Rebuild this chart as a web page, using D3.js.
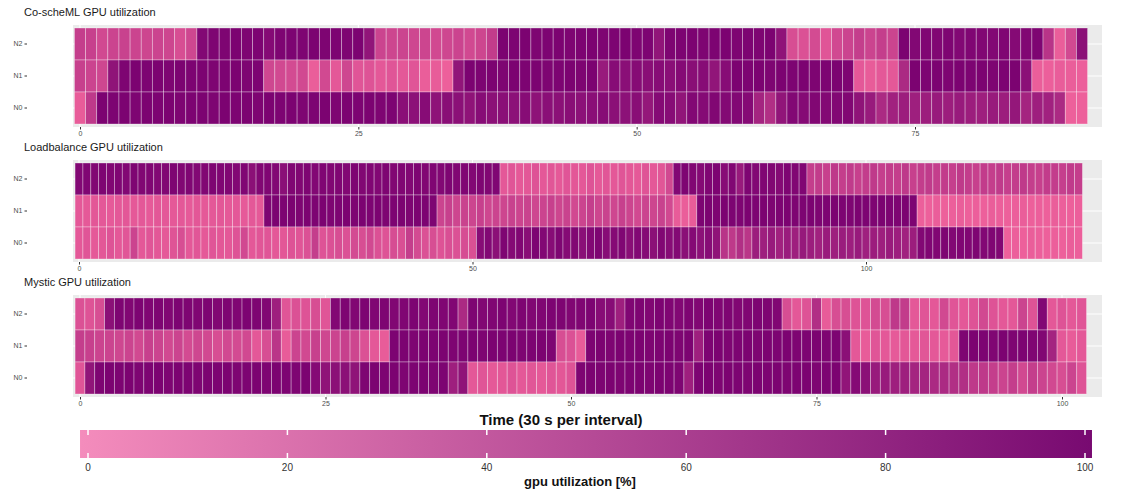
<!DOCTYPE html>
<html>
<head>
<meta charset="utf-8">
<title>GPU utilization heatmaps</title>
<style>
  body { margin: 0; background: #fff; }
  text { font-family: "Liberation Sans", Arial, sans-serif; }
</style>
</head>
<body>
<svg width="1132" height="492"></svg>
<script src="https://d3js.org/d3.v7.min.js"></script>
<script>

var nodes = ["N2", "N1", "N0"];

var coschemlN2 = [40,38,30,35,37,35,33,35,33,25,32, 92,95,95,97,95,96,90,95,96,95,97,95,96,95,97,80, 35,33,35,32,34,30,32,35,30,33,42, 97,96,97,95,96,97,95,96,97,95,96,97,95,96,80,95,96,97,95,96,97,95,96,95,97,82, 25,22,28,18,30,35,40,35,40,35, 97,92,94,93,95,92,94,93,92,94,90,93,95, 50,10,30,85];
var coschemlN1 = [38,35,32, 82, 95,97,96,97,95,97,96,97,95,96,97,95,96, 32,30,28,30,10,30,15,32,18,20,15,18,15,18,10,12,8, 80, 97,96,97,95,97,96,97,95,96,97,95,97, 75, 88,86,89,87,88,86,90,87,88, 80, 88, 97,96,97,95,97,96,97,95,96,97,95, 15,12,15,15, 60, 97,96,97,95,97,96,97,95,96,97, 85, 10,9,11,10,9];
var coschemlN0 = [12,45, 97,96,97,95,97,96,97,95,96,97,95,97,96,97,95,97,96,97,95,96,97,95,97,96,97,95,96, 86,84,88,83,87,85,82,88,85,86,84,88,83,86,85,87,84,86,88,85,84,87, 78, 90,88, 80, 92,90,93,91,92,90, 65,55,80, 92,90,93,91,92,93, 82,75,60,68,72,70,72,75,72,75,72,70,75,72,78,65,70,68,60,8,8];

var loadbalanceN2 = [92,94,93,95,93,94,92,95,93,94,92,93,95,93,94,92,93,95,94,93,92,94,85,93,94,92,86,94,93,95,92,94,93, 94,92,95,93,94,92,95,93,94,92,95,93,94,92,95,93,94,92,95,93,94, 15,18,14,16,20,15,17,14,18,16,15,20,14,17,15,18,16,14,19,15,17,30, 92,95,93,90,94,96,88,93,75,95,92,94,93,90,95,93,94, 40,42,38,45,40,43,38,41,44,39,42,40,45,38,41,43,40,42,39,44,41,38,42,40,43,39,41,44,40,38,42,41,39,43,40];
var loadbalanceN1 = [15,14,16,15,13,15,16,14,15,13,16,15,14,15,13,16,14,15,16,14,15,13,15,14, 95,97,96,97,95,97,96,97,95,96,97,95,97,96,97,95,96,97,95,97,96,95, 35,38,33,36,34,38,32,35,33,37,34,36,32,35,38,33,36,30,35,40,33,36,32,38,34,30,35,33,37,30, 12,10,12, 96,97,95,97,96,95,97,96,97,95,96,97,95,96,97,95,96,97,96,95,97,96,95,97,96,95,97,96, 9,8,10,8,9,10,8,9,8,10,9,8,9,10,8,9,8,10,9,8,9];
var loadbalanceN0 = [15,18,14,16,20,15,17,35,15,18,16,14,19,25,15,17,14,18,16,15,20,30,15,17,18,15,16,20,18,22,40,20,22, 25,22,28,25,30,22,20,26,24,40,28,22,25,20,24,22,26,23, 88,92,85,95,90,93,87,96,92,88,95,90,93,86,92,95,88,90,94,87,92,90,85,93,88,91,86,90,84,88,82, 50,45,55,48, 72,70,75,68,73,70,76,72,68,74,70,73,71,75,69,72,70,74,71,68,72, 92,94,93,95,92,94,93,95,92,94,93, 8,9,8,10,9,8,9,8,10,9];

var mysticN2 = [22,20,25, 85, 95,93,96,94,95,93,96,95,94,96,93,95,94,96,95,93, 70, 18,22,20,25,18, 92,95,93,96,94,95,93,94,96,92,95,94,93, 60, 95,93,94,96,92,95,93,94,96,95,93,94,96,88,88,70, 94,95,93,96,94,92,95,93,96,94,95,93,94,96,95,93, 25,15,20,55,12,25, 25,20,20,28,25,45,42,15,18,15,30,18,15,20,30,20,15,15,35,20,92,15,20,15,18];
var mysticN1 = [40,38,35,35,32,35,30,38,35,30,35,28,32,30,25,30,28,30,15,25,48,12,35,30,38,32, 35,38,33,22,15,12, 96,97,95,97,96,97,95,96,97,95,97,96,97,95,96,97,95, 25,22,12, 96,97,95,97,96,97,95,96,97,95,97,70,96,97,95,96,97,95,97,96,97,95,96,97,95,96, 85, 15,12,18,15,13,16,14,17,15,13,16, 95,97,96,94,97,95,96,94,93, 65, 15,12,15];
var mysticN0 = [18,80, 95,97,96,97,95,96,97,95,97,96,95,97,96,97,95,96,97,95,97,96,95,97, 90,82,85,85,82, 95,97,96,97,95,96,97,95,96, 70,82, 15,18,14,16,20,15,17,14,18,16,20, 95,97,96,97,95,96,97,95,97,96,95, 70, 96,97,95,97,96,95,97,96,97,95,96,97,95,96,97, 80,90,85,75,75,70,70,65,65,60,60,55,55,45,45,40,35,40,30,40,35,30,25,35,20];

var panelTitles = ["Co-scheML GPU utilization", "Loadbalance GPU utilization", "Mystic GPU utilization"];
var coschemlTicks = [0, 25, 50, 75];
var loadbalanceTicks = [0, 50, 100];
var mysticTicks = [0, 25, 50, 75, 100];
var legendTicks = [0, 20, 40, 60, 80, 100];

var panels = [
  {title: panelTitles[0], rows: {N2: coschemlN2, N1: coschemlN1, N0: coschemlN0}, ticks: coschemlTicks, top: 25, dom: [0, 75], rng: [80, 915]},
  {title: panelTitles[1], rows: {N2: loadbalanceN2, N1: loadbalanceN1, N0: loadbalanceN0}, ticks: loadbalanceTicks, top: 160, dom: [0, 100], rng: [79, 866]},
  {title: panelTitles[2], rows: {N2: mysticN2, N1: mysticN1, N0: mysticN0}, ticks: mysticTicks, top: 295, dom: [0, 100], rng: [80, 1062]}
];

var svg = d3.select("svg");
svg.append("rect").attr("width", 1132).attr("height", 492).attr("fill", "#fff");

var color = d3.scaleLinear()
    .domain([0, 100])
    .range(["#f7689f", "#780070"])
    .interpolate(d3.interpolateRgb);

var panelLeft = 73, panelRight = 1102, panelH = 102;

panels.forEach(function(p) {
  var g = svg.append("g");
  var x = d3.scaleLinear().domain(p.dom).range(p.rng);
  var y = d3.scaleBand().domain(nodes).range([p.top + 3, p.top + panelH - 3]);

  g.append("text")
      .attr("x", 24)
      .attr("y", p.top - 9)
      .attr("font-size", 11)
      .attr("fill", "#1a1a1a")
      .text(p.title);

  g.append("rect")
      .attr("x", panelLeft)
      .attr("y", p.top)
      .attr("width", panelRight - panelLeft)
      .attr("height", panelH)
      .attr("fill", "#ebebeb");

  // grid lines
  g.selectAll(".hgrid")
    .data(nodes)
    .enter().append("line")
      .attr("x1", panelLeft).attr("x2", panelRight)
      .attr("y1", function(d) { return y(d) + y.bandwidth() / 2; })
      .attr("y2", function(d) { return y(d) + y.bandwidth() / 2; })
      .attr("stroke", "#fff")
      .attr("stroke-width", 1.1);

  g.selectAll(".vgrid")
    .data(p.ticks)
    .enter().append("line")
      .attr("x1", function(d) { return x(d); })
      .attr("x2", function(d) { return x(d); })
      .attr("y1", p.top).attr("y2", p.top + panelH)
      .attr("stroke", "#fff")
      .attr("stroke-width", 1.1);

  nodes.forEach(function(n) {
    g.selectAll(null)
      .data(p.rows[n])
      .enter().append("rect")
        .attr("x", function(d, i) { return x(i - 0.5); })
        .attr("y", y(n))
        .attr("width", function(d, i) { return x(i + 0.5) - x(i - 0.5); })
        .attr("height", y.bandwidth())
        .attr("fill", function(d) { return color(d); })
        .attr("stroke", "rgba(255,255,255,0.4)")
        .attr("stroke-width", 0.8);
  });

  // y axis labels
  var ya = g.append("g").attr("transform", "translate(" + 27 + ",0)")
      .call(d3.axisLeft(y).tickSize(2.5).tickPadding(2));
  ya.select(".domain").remove();
  ya.selectAll("line").attr("stroke", "#333");
  ya.selectAll("text").attr("font-size", 7).attr("fill", "#4d4d4d")
      .style("font-family", "Liberation Sans, Arial, sans-serif");

  var xa = g.append("g").attr("transform", "translate(0," + (p.top + panelH) + ")")
      .call(d3.axisBottom(x).tickValues(p.ticks).tickSize(2.5).tickPadding(1.5));
  xa.select(".domain").remove();
  xa.selectAll("line").attr("stroke", "#333");
  xa.selectAll("text").attr("font-size", 7).attr("fill", "#4d4d4d")
      .style("font-family", "Liberation Sans, Arial, sans-serif");
});

svg.append("text")
    .attr("x", 561)
    .attr("y", 425)
    .attr("text-anchor", "middle")
    .attr("font-size", 15)
    .attr("font-weight", "bold")
    .attr("fill", "#111")
    .text("Time (30 s per interval)");

// legend
var lx = d3.scaleLinear().domain([0, 100]).range([88, 1085]);
var defs = svg.append("defs");
var grad = defs.append("linearGradient").attr("id", "lg")
    .attr("x1", "0%").attr("x2", "100%").attr("y1", "0%").attr("y2", "0%");
grad.append("stop").attr("offset", "0%").attr("stop-color", "#f48cbc");
grad.append("stop").attr("offset", "100%").attr("stop-color", "#780a71");

var legTop = 430, legH = 28;
svg.append("rect")
    .attr("x", lx(-0.8))
    .attr("y", legTop)
    .attr("width", lx(100.7) - lx(-0.8))
    .attr("height", legH)
    .attr("fill", "url(#lg)");

svg.selectAll(".ltick")
  .data(legendTicks)
  .enter().append("g")
  .each(function(d) {
    var s = d3.select(this);
    s.append("line").attr("x1", lx(d)).attr("x2", lx(d))
      .attr("y1", legTop).attr("y2", legTop + 5)
      .attr("stroke", "#fff").attr("stroke-width", 1.5);
    s.append("line").attr("x1", lx(d)).attr("x2", lx(d))
      .attr("y1", legTop + legH - 5).attr("y2", legTop + legH)
      .attr("stroke", "#fff").attr("stroke-width", 1.5);
    s.append("text").attr("x", lx(d)).attr("y", legTop + legH + 13)
      .attr("text-anchor", "middle")
      .attr("font-size", 10)
      .attr("fill", "#333")
      .text(d);
  });

svg.append("text")
    .attr("x", 580)
    .attr("y", 486)
    .attr("text-anchor", "middle")
    .attr("font-size", 13)
    .attr("font-weight", "bold")
    .attr("fill", "#111")
    .text("gpu utilization [%]");

</script>
</body>
</html>
